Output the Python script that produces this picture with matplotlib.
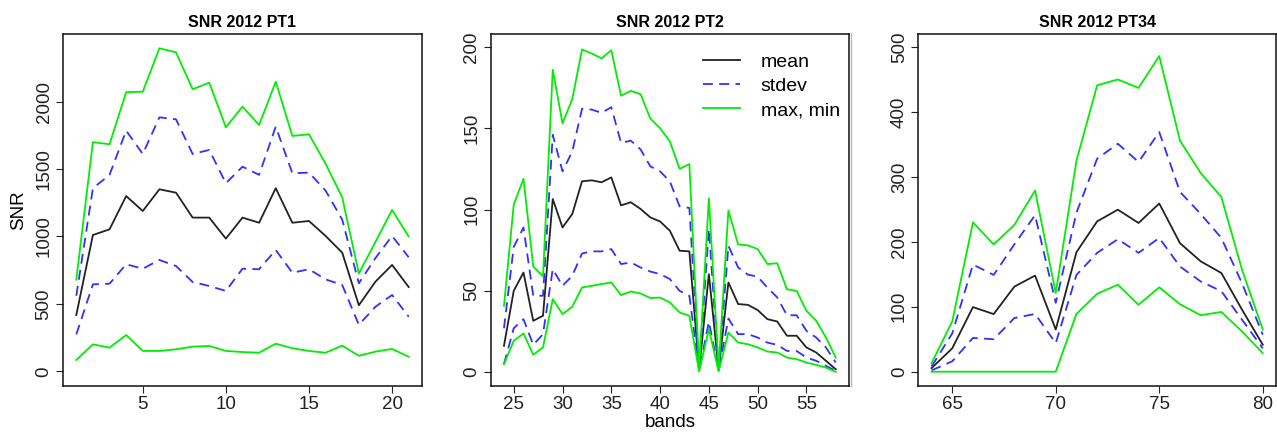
import matplotlib
matplotlib.use("Agg")
import matplotlib.pyplot as plt
from matplotlib.lines import Line2D

plt.rcParams['font.family'] = ['Liberation Sans', 'DejaVu Sans']

# ---- data ----
p1_bands = list(range(1, 22))
p1_max = [680, 1700, 1684, 2070, 2074, 2396, 2366, 2092, 2141, 1810, 1963,
          1827, 2148, 1746, 1758, 1540, 1290, 725, 960, 1197, 1000]
p1_sd_hi = [560, 1358, 1457, 1785, 1612, 1884, 1869, 1612, 1642, 1395, 1518,
            1457, 1815, 1469, 1474, 1340, 1125, 653, 840, 1004, 846]
p1_mean = [418, 1011, 1053, 1300, 1189, 1350, 1325, 1140, 1140, 984, 1140,
           1102, 1358, 1102, 1115, 1004, 880, 490, 665, 789, 625]
p1_sd_lo = [274, 645, 650, 794, 761, 826, 781, 662, 633, 596, 761,
            757, 900, 731, 757, 682, 640, 345, 479, 566, 405]
p1_min = [84, 200, 175, 269, 151, 151, 163, 183, 188, 151, 143,
          138, 205, 171, 151, 138, 190, 115, 146, 166, 108]

p2_bands = list(range(24, 59))
p2_max = [40.8, 103, 119, 65, 59, 186, 153, 168, 198.5, 196, 193, 198, 170,
          173, 171, 156, 150, 142, 125, 128, 2.5, 107, 2.5, 99.5, 78.5, 78,
          75.7, 66.5, 67, 51, 50, 37.7, 31.6, 21.3, 9]
p2_sd_hi = [27, 77, 89, 47, 47, 146, 123.5, 135.8, 162, 161.5, 159.5, 163,
            141, 142.4, 137, 126.6, 123.5, 117.4, 102, 101, 2, 88, 2, 77.8,
            64.4, 60, 58.7, 52, 46, 35, 35, 25.4, 21.3, 15.2, 6]
p2_mean = [16.2, 50, 61.3, 31.6, 34.7, 106.5, 89, 97.3, 117.4, 118, 116.8,
           119.8, 102.6, 104.5, 100.4, 95.2, 92.7, 87, 74.7, 74.3, 1.5, 60.3,
           1.5, 55.2, 41.9, 41.4, 38.2, 32.6, 31.2, 22.4, 22.4, 15.2, 12.1,
           7, 1.8]
p2_sd_lo = [5, 27, 32.6, 16.8, 23.4, 63.4, 53.1, 59.3, 73, 74.3, 74.3, 75.7,
            66.5, 67.5, 64.4, 61.9, 60.3, 57.3, 50, 47, 1, 31, 1, 33, 23.4,
            23.4, 21.3, 18.2, 16.8, 13.1, 13, 9, 7, 3.9, 0.8]
p2_min = [4.9, 19.3, 23.8, 10.7, 15.2, 44.9, 35.7, 40.2, 52.1, 53.1, 54.2,
          55.2, 47.4, 49.6, 48.4, 45.6, 45.9, 42.9, 36.7, 34.7, 0.5, 26.5,
          0.5, 24.4, 18.2, 17.2, 15.2, 12.7, 12.1, 9, 8, 5.9, 4.5, 2.8, 0.2]

p3_bands = list(range(64, 81))
p3_max = [13, 77.5, 230, 196, 226, 279, 121, 325, 441, 450, 437, 486, 356,
          306, 269, 157, 65]
p3_sd_hi = [8, 59, 165, 149, 196, 241, 106, 245, 328, 351, 323, 369, 277,
            243, 206, 136, 57]
p3_mean = [5.5, 36, 99.5, 88.7, 131, 148, 65, 184, 231.5, 249.5, 229, 259,
           198, 170, 152, 95.5, 41.6]
p3_sd_lo = [2, 16, 52, 50, 82.6, 89, 44, 149, 183, 204, 183, 206, 162, 139,
            124, 80, 36]
p3_min = [0, 0, 0, 0, 0, 0, 0, 89, 120, 134, 103, 130, 104, 87, 92, 62, 28.7]

titles = ['SNR 2012 PT1', 'SNR 2012 PT2', 'SNR 2012 PT34']

W, H = 1277, 432
fig = plt.figure(figsize=(W / 100, H / 100), dpi=100)
fig.patch.set_facecolor('white')


def px_axes(left, right, top, bottom):
    return fig.add_axes([left / W, 1 - bottom / H, (right - left) / W,
                         (bottom - top) / H])


panels = [
    dict(box=(63, 422, 34, 386), x=p1_bands, mx=p1_max, hi=p1_sd_hi,
         mean=p1_mean, lo=p1_sd_lo, mn=p1_min, xlim=(0.2, 21.8),
         ylim=(-109, 2502), xt=[5, 10, 15, 20], yt=[0, 500, 1000, 1500, 2000]),
    dict(box=(490.7, 849, 34, 386), x=p2_bands, mx=p2_max, hi=p2_sd_hi,
         mean=p2_mean, lo=p2_sd_lo, mn=p2_min, xlim=(22.64, 59.36),
         ylim=(-8.5, 208), xt=[25, 30, 35, 40, 45, 50, 55],
         yt=[0, 50, 100, 150, 200]),
    dict(box=(918.3, 1276, 34, 386), x=p3_bands, mx=p3_max, hi=p3_sd_hi,
         mean=p3_mean, lo=p3_sd_lo, mn=p3_min, xlim=(63.36, 80.64),
         ylim=(-22, 520), xt=[65, 70, 75, 80],
         yt=[0, 100, 200, 300, 400, 500]),
]

dash = (0, (5.5, 3.5))
axes = []
for p, title in zip(panels, titles):
    ax = px_axes(*p['box'])
    axes.append(ax)
    ax.plot(p['x'], p['mean'], color='#222222', lw=1.3, label='mean')
    ax.plot(p['x'], p['hi'], color='#3030ff', lw=1.3, linestyle=dash,
            label='stdev')
    ax.plot(p['x'], p['lo'], color='#3030ff', lw=1.3, linestyle=dash)
    ax.plot(p['x'], p['mx'], color='#00ee00', lw=1.3, label='max, min')
    ax.plot(p['x'], p['mn'], color='#00ee00', lw=1.3)
    ax.set_xlim(*p['xlim'])
    ax.set_ylim(*p['ylim'])
    ax.set_xticks(p['xt'])
    ax.set_yticks(p['yt'])
    ax.tick_params(labelsize=13.5, length=5, width=0.8, pad=2.5,
                   colors='#222222')
    plt.setp(ax.get_yticklabels(), rotation=90, va='center')
    for s in ax.spines.values():
        s.set_linewidth(1.1)
        s.set_color('#111111')
    ax.set_title(title, fontsize=11.5, fontweight='bold', pad=5)

axes[0].set_ylabel('SNR', fontsize=13.5, labelpad=6)
axes[1].set_xlabel('bands', fontsize=13.5, labelpad=0.5)
axes[1].legend(loc='upper left', bbox_to_anchor=(0.593, 0.945), frameon=False,
               fontsize=14, handlelength=1.9, handletextpad=1.05,
               labelspacing=0.33, borderpad=0, borderaxespad=0)

# faint grey edge seen left of the third panel
fig.add_artist(Line2D([850.5 / W, 850.5 / W], [1 - 386 / H, 1 - 33 / H],
                      color='#bbbbbb', lw=1.0))

fig.savefig('out.png', dpi=100, facecolor='white')
